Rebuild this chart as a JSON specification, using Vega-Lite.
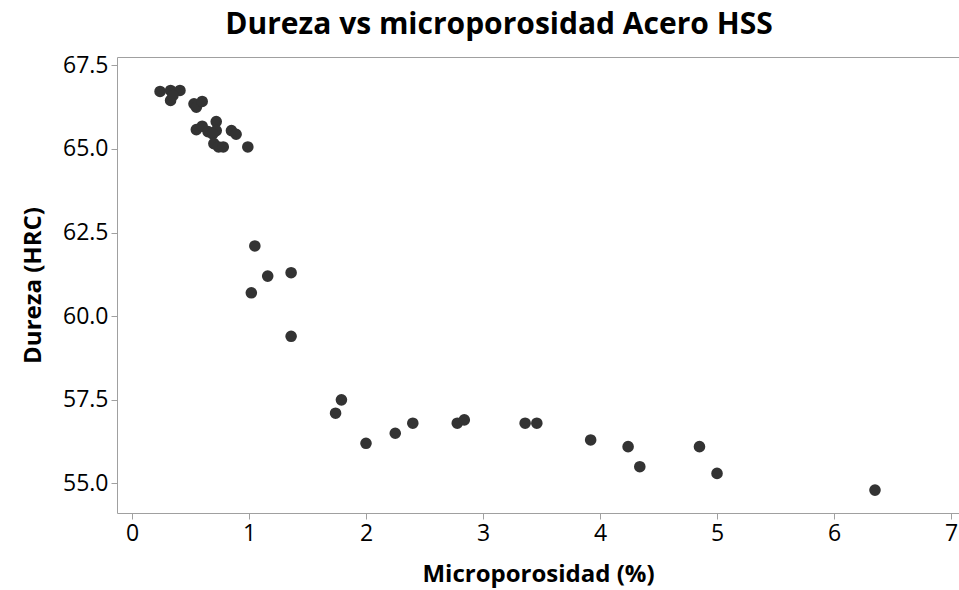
{
  "$schema": "https://vega.github.io/schema/vega-lite/v6.json",
  "autosize": "none",
  "width": 842,
  "height": 456,
  "padding": {"left": 117, "top": 57, "right": 0, "bottom": 77},
  "background": "white",
  "config": {
    "view": {"stroke": null},
    "font": "Open Sans",
    "axis": {
      "domainColor": "#a0a0a0",
      "tickColor": "#a0a0a0",
      "tickSize": 6,
      "labelColor": "#000000",
      "labelFont": "Open Sans",
      "labelFontSize": 23,
      "labelPadding": 3,
      "titleFont": "Open Sans",
      "titleFontSize": 24,
      "titleFontWeight": "bold",
      "titleColor": "#000000",
      "grid": false
    }
  },
  "title": {
    "text": "Dureza vs microporosidad Acero HSS",
    "font": "Open Sans",
    "fontSize": 30,
    "fontWeight": "bold",
    "color": "#000000",
    "anchor": "middle",
    "dx": -39,
    "offset": 14
  },
  "data": {
    "values": [
      {"micro": 0.24, "dureza": 66.72},
      {"micro": 0.33, "dureza": 66.75},
      {"micro": 0.41, "dureza": 66.75},
      {"micro": 0.33, "dureza": 66.45},
      {"micro": 0.35, "dureza": 66.6},
      {"micro": 0.53, "dureza": 66.35},
      {"micro": 0.55, "dureza": 66.25},
      {"micro": 0.60, "dureza": 66.42},
      {"micro": 0.55, "dureza": 65.58},
      {"micro": 0.60, "dureza": 65.68},
      {"micro": 0.65, "dureza": 65.52},
      {"micro": 0.72, "dureza": 65.82},
      {"micro": 0.72, "dureza": 65.55},
      {"micro": 0.69, "dureza": 65.45},
      {"micro": 0.85, "dureza": 65.55},
      {"micro": 0.89, "dureza": 65.44},
      {"micro": 0.70, "dureza": 65.16},
      {"micro": 0.74, "dureza": 65.06},
      {"micro": 0.78, "dureza": 65.06},
      {"micro": 0.99, "dureza": 65.06},
      {"micro": 1.05, "dureza": 62.1},
      {"micro": 1.16, "dureza": 61.2},
      {"micro": 1.36, "dureza": 61.3},
      {"micro": 1.02, "dureza": 60.7},
      {"micro": 1.36, "dureza": 59.4},
      {"micro": 1.79, "dureza": 57.5},
      {"micro": 1.74, "dureza": 57.1},
      {"micro": 2.0, "dureza": 56.2},
      {"micro": 2.25, "dureza": 56.5},
      {"micro": 2.4, "dureza": 56.8},
      {"micro": 2.78, "dureza": 56.8},
      {"micro": 2.84, "dureza": 56.9},
      {"micro": 3.36, "dureza": 56.8},
      {"micro": 3.46, "dureza": 56.8},
      {"micro": 3.92, "dureza": 56.3},
      {"micro": 4.24, "dureza": 56.1},
      {"micro": 4.34, "dureza": 55.5},
      {"micro": 4.85, "dureza": 56.1},
      {"micro": 5.0, "dureza": 55.3},
      {"micro": 6.35, "dureza": 54.8}
    ]
  },
  "layer": [
    {
      "mark": {"type": "point", "filled": true, "opacity": 1, "color": "#333333", "size": 135},
      "encoding": {
        "x": {
          "field": "micro", "type": "quantitative",
          "scale": {"domain": [-0.128, 7.068], "nice": false, "zero": false},
          "axis": {"title": "Microporosidad (%)", "values": [0,1,2,3,4,5,6,7], "format": "d", "titlePadding": 17}
        },
        "y": {
          "field": "dureza", "type": "quantitative",
          "scale": {"domain": [54.116, 67.75], "nice": false, "zero": false},
          "axis": {"title": "Dureza (HRC)", "values": [55, 57.5, 60, 62.5, 65, 67.5], "format": ".1f", "titlePadding": 17}
        }
      }
    },
    {
      "mark": {"type": "point", "opacity": 0},
      "encoding": {
        "x": {
          "field": "micro", "type": "quantitative",
          "scale": {"domain": [-0.128, 7.068], "nice": false, "zero": false},
          "axis": {"orient": "top", "title": null, "labels": false, "ticks": false}
        }
      }
    }
  ],
  "resolve": {"axis": {"x": "independent"}}
}
